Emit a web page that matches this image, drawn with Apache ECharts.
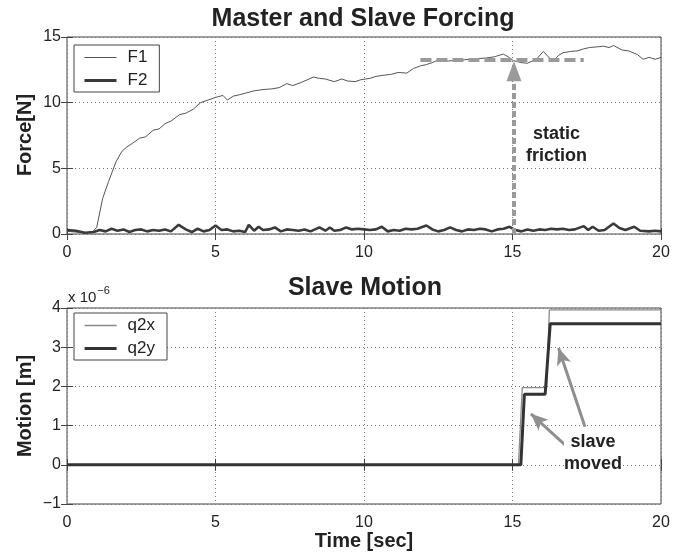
<!DOCTYPE html>
<html>
<head>
<meta charset="utf-8">
<script src="https://cdn.jsdelivr.net/npm/echarts@6/dist/echarts.min.js"></script>
<style>
  html, body { margin: 0; padding: 0; background: #fff; }
  #chart { width: 698px; height: 557px; }
</style>
</head>
<body>
<div id="chart"></div>
<script>
// Master force F1 (time in s, force in N)
const f1Time = [0, 0.3, 0.6, 0.85, 1.0, 1.2, 1.4, 1.65, 1.85, 2.0, 2.2, 2.45, 2.65, 2.9, 3.1, 3.3, 3.5, 3.8, 4.0, 4.25,
  4.5, 4.75, 5.0, 5.25, 5.4, 5.6, 5.8, 6.05, 6.3, 6.6, 6.9, 7.15, 7.4, 7.6, 7.9, 8.3, 8.5, 8.7, 9.0, 9.25,
  9.45, 9.7, 9.9, 10.2, 10.4, 10.7, 10.9, 11.15, 11.44, 11.66, 11.9, 12.1, 12.3, 12.45, 12.7, 13.0, 13.3, 13.57, 13.8, 14.13,
  14.4, 14.69, 14.85, 15.03, 15.3, 15.5, 15.8, 16.04, 16.2, 16.37, 16.55, 16.7, 16.95, 17.2, 17.4, 17.6, 17.85, 18.06, 18.25, 18.4,
  18.7, 18.9, 19.2, 19.4, 19.6, 19.8, 20];
const f1Force = [0.2, 0.15, 0.1, 0.15, 0.5, 2.7, 4.0, 5.5, 6.3, 6.6, 6.9, 7.3, 7.4, 7.9, 8.0, 8.4, 8.6, 9.1, 9.2, 9.5,
  10.0, 10.2, 10.4, 10.55, 10.2, 10.5, 10.6, 10.75, 10.9, 11.0, 11.05, 11.15, 11.45, 11.3, 11.55, 11.95, 11.85, 11.8, 11.6, 11.8,
  11.65, 11.6, 11.75, 11.85, 12.0, 12.1, 12.15, 12.3, 12.25, 12.6, 12.8, 12.9, 13.05, 13.2, 13.15, 13.2, 13.25, 13.3, 13.35, 13.4,
  13.5, 13.7, 13.5, 13.2, 13.05, 13.0, 13.3, 13.9, 13.5, 13.15, 13.6, 13.8, 13.9, 13.95, 14.1, 14.2, 14.25, 14.3, 14.2, 14.35,
  14.0, 13.95, 13.67, 13.3, 13.45, 13.3, 13.45];

// Slave force F2 (time in s, force in N)
const f2Time = [0, 0.3, 0.6, 0.9, 1.1, 1.3, 1.5, 1.7, 1.9, 2.1, 2.3, 2.5, 2.7, 2.9, 3.1, 3.3, 3.5, 3.76, 4.0, 4.2,
  4.4, 4.6, 4.8, 5.0, 5.2, 5.4, 5.6, 5.8, 6.0, 6.12, 6.3, 6.45, 6.6, 6.8, 7.0, 7.2, 7.4, 7.6, 7.8, 8.0,
  8.2, 8.5, 8.7, 8.85, 9.0, 9.2, 9.4, 9.6, 9.8, 10.0, 10.2, 10.4, 10.6, 10.8, 11.0, 11.2, 11.4, 11.6, 11.8, 12.1,
  12.3, 12.5, 12.7, 12.9, 13.1, 13.3, 13.5, 13.7, 13.9, 14.1, 14.3, 14.5, 14.7, 14.9, 15.1, 15.3, 15.5, 15.7, 15.9, 16.1,
  16.3, 16.5, 16.7, 16.9, 17.1, 17.4, 17.55, 17.7, 17.9, 18.1, 18.4, 18.6, 18.8, 19.1, 19.3, 19.6, 19.8, 20];
const f2Force = [0.3, 0.25, 0.1, 0.15, 0.3, 0.2, 0.4, 0.25, 0.35, 0.15, 0.3, 0.35, 0.2, 0.3, 0.25, 0.35, 0.2, 0.7, 0.35, 0.15,
  0.4, 0.2, 0.3, 0.65, 0.3, 0.35, 0.2, 0.25, 0.15, 0.7, 0.25, 0.55, 0.3, 0.35, 0.5, 0.2, 0.35, 0.3, 0.25, 0.35,
  0.2, 0.5, 0.25, 0.5, 0.25, 0.3, 0.5, 0.35, 0.4, 0.35, 0.3, 0.35, 0.55, 0.2, 0.3, 0.25, 0.4, 0.35, 0.4, 0.65,
  0.35, 0.2, 0.3, 0.5, 0.3, 0.2, 0.35, 0.3, 0.4, 0.35, 0.2, 0.35, 0.4, 0.55, 0.3, 0.2, 0.35, 0.25, 0.35, 0.3,
  0.4, 0.35, 0.4, 0.3, 0.35, 0.6, 0.3, 0.55, 0.25, 0.3, 0.8, 0.45, 0.3, 0.55, 0.25, 0.2, 0.25, 0.2];

// Slave motion, in units of 1e-6 m
const q2xTime = [0, 15.2, 15.33, 16.15, 16.24, 20];
const q2xPos  = [0, 0, 1.97, 1.97, 3.95, 3.95];
const q2yTime = [0, 15.28, 15.4, 16.1, 16.27, 20];
const q2yPos  = [0, 0, 1.8, 1.8, 3.6, 3.6];

// Annotation geometry in data units
const frictionLevel = 13.3;
const frictionSpan = [11.9, 17.4];
const frictionTime = 15.05;
const frictionArrowEnd = 12.4;
const movedArrows = [
  { from: [16.77, 0.51], to: [15.62, 1.3] },
  { from: [17.44, 0.97], to: [16.55, 2.98] }
];

const xTicks = { min: 0, max: 20, interval: 5 };
const forceTicks = { min: 0, max: 15, interval: 5 };
const motionTicks = { min: -1, max: 4, interval: 1 };

const pairs = (t, v) => t.map((x, i) => [x, v[i]]);
const FONT = '"Liberation Sans", Arial, Helvetica, sans-serif';
const INK = '#222';
const gridLine = { show: true, lineStyle: { color: '#777', type: [1, 3], width: 1 } };
const tickIn = { show: true, inside: true, length: 6, lineStyle: { color: '#444' } };
const axisNameStyle = { fontSize: 20, fontWeight: 'bold', fontFamily: FONT, fill: INK,
  textAlign: 'center', textVerticalAlign: 'middle' };

function xAx(gridIndex, bottom, withName) {
  return {
    type: 'value', gridIndex, position: bottom ? 'bottom' : 'top',
    min: xTicks.min, max: xTicks.max, interval: xTicks.interval,
    axisLine: { show: false },
    axisTick: tickIn,
    splitLine: bottom ? gridLine : { show: false },
    axisLabel: { show: bottom, color: INK, fontSize: 16, fontFamily: FONT, margin: 11 },
    name: withName ? 'Time [sec]' : '',
    nameLocation: 'middle', nameGap: 27,
    nameTextStyle: { color: INK, fontSize: 20, fontWeight: 'bold', fontFamily: FONT }
  };
}
function yAx(gridIndex, left, ticks, fmt) {
  return {
    type: 'value', gridIndex, position: left ? 'left' : 'right',
    min: ticks.min, max: ticks.max, interval: ticks.interval,
    axisLine: { show: false },
    axisTick: tickIn,
    splitLine: left ? gridLine : { show: false },
    axisLabel: { show: left, color: INK, fontSize: 16, fontFamily: FONT, margin: 6, formatter: fmt }
  };
}

const chart = echarts.init(document.getElementById('chart'), null, { renderer: 'canvas' });

const legendBase = {
  orient: 'vertical', left: 74, itemWidth: 32, itemHeight: 14, itemGap: 6,
  backgroundColor: '#fff', borderColor: '#444', borderWidth: 1, borderRadius: 0,
  padding: [4, 12, 3, 9],
  itemStyle: { color: 'rgba(0,0,0,0)', borderWidth: 0 },
  textStyle: { color: INK, fontSize: 17, fontFamily: FONT, padding: [0, 0, 0, 6] }
};

chart.setOption({
  animation: false,
  backgroundColor: '#fff',
  title: [
    { text: 'Master and Slave Forcing', left: 358, top: 2, textAlign: 'center',
      textStyle: { color: INK, fontSize: 25, fontWeight: 'bold', fontFamily: FONT } },
    { text: 'Slave Motion', left: 360, top: 271, textAlign: 'center',
      textStyle: { color: INK, fontSize: 25, fontWeight: 'bold', fontFamily: FONT } }
  ],
  grid: [
    { left: 67, right: 37, top: 37, height: 197, show: true, borderColor: '#444', borderWidth: 1, backgroundColor: '#fff' },
    { left: 67, right: 37, top: 308, height: 196, show: true, borderColor: '#444', borderWidth: 1, backgroundColor: '#fff' }
  ],
  xAxis: [xAx(0, true, false), xAx(0, false, false), xAx(1, true, true), xAx(1, false, false)],
  yAxis: [
    yAx(0, true, forceTicks),
    yAx(0, false, forceTicks),
    yAx(1, true, motionTicks, v => (v < 0 ? '\u2212' + Math.abs(v) : String(v))),
    yAx(1, false, motionTicks)
  ],
  legend: [
    Object.assign({}, legendBase, { top: 45, data: [
      { name: 'F1', lineStyle: { width: 1.2 } },
      { name: 'F2', lineStyle: { width: 3 } }
    ] }),
    Object.assign({}, legendBase, { top: 313, data: [
      { name: 'q2x', lineStyle: { width: 1.5 } },
      { name: 'q2y', lineStyle: { width: 3.2 } }
    ] })
  ],
  series: [
    { name: 'F1', type: 'line', xAxisIndex: 0, yAxisIndex: 0, data: pairs(f1Time, f1Force),
      symbol: 'none', lineStyle: { color: '#555', width: 1 }, itemStyle: { color: '#555' }, z: 3,
      markLine: {
        silent: true, symbol: ['none', 'none'], label: { show: false },
        lineStyle: { color: '#9a9a9a', width: 4, type: [11, 5] },
        data: [[{ coord: [frictionSpan[0], frictionLevel] }, { coord: [frictionSpan[1], frictionLevel] }]]
      } },
    { name: 'F2', type: 'line', xAxisIndex: 0, yAxisIndex: 0, data: pairs(f2Time, f2Force),
      symbol: 'none', lineStyle: { color: '#3a3a3a', width: 2.6 }, itemStyle: { color: '#3a3a3a' }, z: 4,
      markLine: {
        silent: true, symbol: ['none', 'triangle'], symbolSize: [15, 20], label: { show: false },
        lineStyle: { color: '#9a9a9a', width: 4, type: [6, 3] },
        data: [[{ coord: [frictionTime, 0] }, { coord: [frictionTime, frictionArrowEnd] }]]
      } },
    { name: 'q2x', type: 'line', xAxisIndex: 2, yAxisIndex: 2, data: pairs(q2xTime, q2xPos),
      symbol: 'none', lineStyle: { color: '#8a8a8a', width: 1.3 }, itemStyle: { color: '#8a8a8a' }, z: 3,
      markLine: {
        silent: true, symbol: ['none', 'arrow'], symbolSize: [11, 17], label: { show: false },
        lineStyle: { color: '#8f8f8f', width: 3, type: 'solid' },
        data: movedArrows.map(a => [{ coord: a.from }, { coord: a.to }])
      } },
    { name: 'q2y', type: 'line', xAxisIndex: 2, yAxisIndex: 2, data: pairs(q2yTime, q2yPos),
      symbol: 'none', lineStyle: { color: '#333', width: 3 }, itemStyle: { color: '#333' }, z: 4 }
  ],
  graphic: [
    { type: 'text', x: 25, y: 135, rotation: Math.PI / 2, z: 10,
      style: Object.assign({ text: 'Force[N]' }, axisNameStyle) },
    { type: 'text', x: 25, y: 406, rotation: Math.PI / 2, z: 10,
      style: Object.assign({ text: 'Motion [m]' }, axisNameStyle) },
    { type: 'text', left: 68, top: 285, z: 10,
      style: { text: '{b|x 10}{s|\u22126}', rich: {
        b: { fontSize: 15, fontFamily: FONT, fill: INK, padding: [8, 0, 0, 0] },
        s: { fontSize: 11, fontFamily: FONT, fill: INK, padding: [0, 0, 6, 1] }
      } } },
    { type: 'text', left: 526, top: 123, z: 10,
      style: { text: 'static\nfriction', textAlign: 'center', fontSize: 18, fontWeight: 'bold', fontFamily: FONT,
        fill: INK, lineHeight: 22, backgroundColor: '#fff' } },
    { type: 'text', left: 564, top: 431, z: 10,
      style: { text: 'slave\nmoved', textAlign: 'center', fontSize: 18, fontWeight: 'bold', fontFamily: FONT,
        fill: INK, lineHeight: 22, backgroundColor: '#fff' } }
  ]
});
</script>
</body>
</html>
